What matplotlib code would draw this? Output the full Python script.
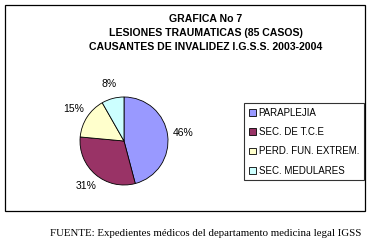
import matplotlib
matplotlib.use("Agg")
import matplotlib.pyplot as plt
from matplotlib.patches import Rectangle

categorias = ["PARAPLEJIA", "SEC. DE T.C.E", "PERD. FUN. EXTREM.", "SEC. MEDULARES"]
casos = [39, 26, 13, 7]
colores = ["#9999FF", "#993366", "#FFFFCC", "#CCFFFF"]
titulo = "GRAFICA No 7\nLESIONES TRAUMATICAS (85 CASOS)\nCAUSANTES DE INVALIDEZ I.G.S.S. 2003-2004"
fuente = "FUENTE: Expedientes médicos del departamento medicina legal IGSS"

W, H = 373, 240
fig = plt.figure(figsize=(W/100, H/100), dpi=100)
fig.patch.set_facecolor("white")

def fx(px): return px / W
def fy(py): return 1 - py / H

# marco exterior
fig.patches.append(Rectangle((fx(5), fy(211)), fx(360), (206)/H, transform=fig.transFigure,
                             fill=False, edgecolor="black", linewidth=0.9))

# titulo
fig.text(fx(206), fy(33), titulo, ha="center", va="center", fontsize=7.6, fontweight="bold",
         family="Liberation Sans", linespacing=1.55)

# pie
r = 44
ax = fig.add_axes([fx(124 - r), fy(141 + r), 2*r/W, 2*r/H])
wedges, _, autot = ax.pie(casos, colors=colores, startangle=90, counterclock=False,
                          autopct=lambda p: f"{p:.0f}%", pctdistance=1.35,
                          wedgeprops={"edgecolor": "black", "linewidth": 0.6})
for t in autot:
    t.set_fontsize(7.5); t.set_family("Liberation Sans")
ax.set_xlim(-1, 1); ax.set_ylim(-1, 1)
ax.set_aspect("equal")

leg = fig.legend(wedges, categorias, loc="upper left",
                 bbox_to_anchor=(fx(244), fy(103)), bbox_transform=fig.transFigure,
                 prop={"family": "Liberation Sans", "size": 7}, frameon=True, fancybox=False,
                 handlelength=0.7, handleheight=0.7, handletextpad=0.3, labelspacing=0.95,
                 borderpad=0.5, borderaxespad=0)
leg.get_frame().set_edgecolor("black"); leg.get_frame().set_linewidth(0.8)

fig.text(fx(206), fy(233), fuente, ha="center", va="center", fontsize=7.8, family="Liberation Serif")

fig.savefig("out.png", dpi=100)
